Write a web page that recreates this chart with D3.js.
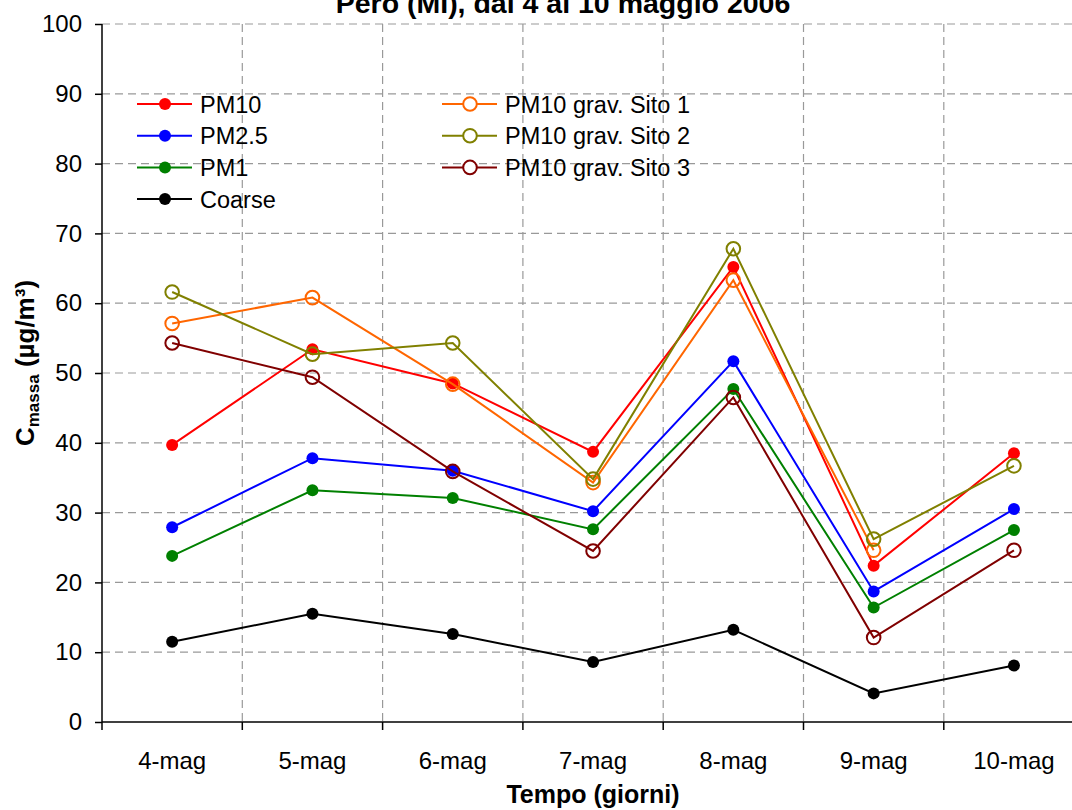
<!DOCTYPE html>
<html>
<head>
<meta charset="utf-8">
<script src="https://cdn.jsdelivr.net/npm/d3@7"></script>
<style>
  body { margin: 0; background: #fff; }
  svg { font-family: "Liberation Sans", Arial, sans-serif; }
  .grid line { stroke: #999; stroke-dasharray: 8,5; stroke-width: 1.2; }
  .axis path, .axis line { stroke: #000; stroke-width: 1.5; }
  .axis text { font-size: 24px; fill: #000; }
  .label { font-size: 26px; font-weight: bold; }
</style>
</head>
<body>
<svg width="1072" height="810"></svg>
<script>
// **** chart data ****
var days = ['4-mag', '5-mag', '6-mag', '7-mag', '8-mag', '9-mag', '10-mag'];
var yTicks = [0, 10, 20, 30, 40, 50, 60, 70, 80, 90, 100];

var pm10 = [39.7, 53.4, 48.5, 38.7, 65.2, 22.4, 38.5];
var pm25 = [27.9, 37.8, 36.0, 30.2, 51.7, 18.7, 30.5];
var pm1 = [23.8, 33.2, 32.1, 27.6, 47.7, 16.4, 27.5];
var coarse = [11.5, 15.5, 12.6, 8.6, 13.2, 4.1, 8.1];
var sito1 = [57.1, 60.8, 48.4, 34.3, 63.3, 24.6, null];
var sito2 = [61.6, 52.7, 54.3, 34.8, 67.8, 26.2, 36.7];
var sito3 = [54.3, 49.4, 35.9, 24.5, 46.5, 12.1, 24.6];

var seriesNames = ['PM10', 'PM2.5', 'PM1', 'Coarse', 'PM10 grav. Sito 1', 'PM10 grav. Sito 2', 'PM10 grav. Sito 3'];

let init = () => {
    var svg = d3.select('svg');

    var series = [
        {name: seriesNames[0], values: pm10, color: '#ff0000', open: false},
        {name: seriesNames[1], values: pm25, color: '#0000ff', open: false},
        {name: seriesNames[2], values: pm1, color: '#008000', open: false},
        {name: seriesNames[3], values: coarse, color: '#000000', open: false},
        {name: seriesNames[4], values: sito1, color: '#ff6600', open: true},
        {name: seriesNames[5], values: sito2, color: '#808000', open: true},
        {name: seriesNames[6], values: sito3, color: '#800000', open: true}
    ];

    var left = 102, top = 24, bottom = 722;
    var bandW = 140.3;

    var xScale = d3.scaleBand()
        .domain(days)
        .range([left, left + bandW * days.length]);

    var yScale = d3.scaleLinear()
        .domain([0, 100])
        .range([bottom, top]);

    // gridlines
    svg.append('g')
        .attr('class', 'grid')
        .selectAll('line')
        .data(yTicks.filter(d => d > 0))
        .enter()
        .append('line')
            .attr('x1', left)
            .attr('x2', 1072)
            .attr('y1', d => yScale(d))
            .attr('y2', d => yScale(d));

    svg.append('g')
        .attr('class', 'grid')
        .selectAll('line')
        .data(days.slice(1))
        .enter()
        .append('line')
            .attr('x1', d => xScale(d))
            .attr('x2', d => xScale(d))
            .attr('y1', top)
            .attr('y2', bottom);

    // axes
    var yAxis = d3.axisLeft(yScale).tickValues(yTicks).tickSize(7).tickPadding(13);
    svg.append('g')
        .attr('class', 'axis')
        .attr('transform', 'translate(' + left + ',0)')
        .call(yAxis)
        .call(g => g.select('.domain').attr('d', 'M0,' + top + 'V' + bottom));

    var xAxis = d3.axisBottom(xScale).tickSize(0).tickPadding(30);
    var gx = svg.append('g')
        .attr('class', 'axis')
        .attr('transform', 'translate(0,' + bottom + ')')
        .call(xAxis);
    gx.select('.domain').attr('d', 'M' + left + ',0H1072');
    gx.selectAll('.bound')
        .data(days)
        .enter()
        .append('line')
            .attr('x1', d => xScale(d))
            .attr('x2', d => xScale(d))
            .attr('y1', 0)
            .attr('y2', 8)
            .attr('stroke', '#000')
            .attr('stroke-width', 1.5);

    // lines and markers
    var line = d3.line()
        .defined(d => d != null)
        .x((d, i) => xScale(days[i]) + xScale.bandwidth() / 2)
        .y(d => yScale(d));

    series.forEach(s => {
        svg.append('path')
            .datum(s.values)
            .attr('fill', 'none')
            .attr('stroke', s.color)
            .attr('stroke-width', 2)
            .attr('d', line);

        svg.append('g')
            .selectAll('circle')
            .data(s.values.map((v, i) => ({v: v, i: i})).filter(d => d.v != null))
            .enter()
            .append('circle')
                .attr('cx', d => xScale(days[d.i]) + xScale.bandwidth() / 2)
                .attr('cy', d => yScale(d.v))
                .attr('r', s.open ? 6.8 : 6)
                .attr('fill', s.open ? 'none' : s.color)
                .attr('stroke', s.color)
                .attr('stroke-width', s.open ? 2 : 0);
    });

    // legend
    var legend = svg.append('g');
    series.forEach((s, k) => {
        var col = k < 4 ? 0 : 1;
        var row = k < 4 ? k : k - 4;
        var lx = col == 0 ? 137 : 442;
        var ly = 104 + row * 31.7;
        var g = legend.append('g').attr('transform', 'translate(' + lx + ',' + ly + ')');
        g.append('line')
            .attr('x1', 0).attr('x2', 55)
            .attr('y1', 0).attr('y2', 0)
            .attr('stroke', s.color)
            .attr('stroke-width', 2);
        g.append('circle')
            .attr('cx', 28).attr('cy', 0)
            .attr('r', s.open ? 6.8 : 6)
            .attr('fill', s.open ? 'white' : s.color)
            .attr('stroke', s.color)
            .attr('stroke-width', s.open ? 2 : 0);
        g.append('text')
            .attr('x', 63).attr('y', 8.5)
            .style('font-size', '23.5px')
            .text(s.name);
    });

    // title and labels
    svg.append('text')
        .attr('class', 'label')
        .attr('x', 563).attr('y', 13)
        .attr('text-anchor', 'middle')
        .style('font-size', '28.5px')
        .text('Pero (MI), dal 4 al 10 maggio 2006');

    svg.append('text')
        .attr('class', 'label')
        .attr('x', 593).attr('y', 803)
        .attr('text-anchor', 'middle')
        .style('font-size', '25px')
        .text('Tempo (giorni)');

    var yl = svg.append('text')
        .attr('class', 'label')
        .attr('text-anchor', 'middle')
        .attr('transform', 'translate(34,363) rotate(-90)');
    yl.append('tspan').text('C');
    yl.append('tspan').attr('dy', 5).style('font-size', '17px').text('massa');
    yl.append('tspan').attr('dy', -5).text(' (µg/m³)');
}

init();
</script>
</body>
</html>
